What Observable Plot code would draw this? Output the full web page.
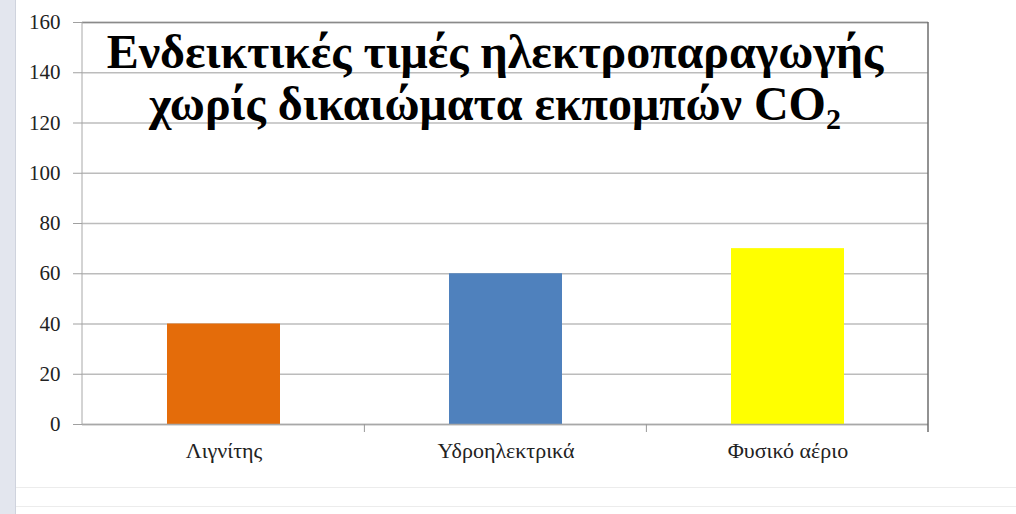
<!DOCTYPE html>
<html>
<head>
<meta charset="utf-8">
<script src="https://cdn.jsdelivr.net/npm/d3@7"></script>
<script src="https://cdn.jsdelivr.net/npm/@observablehq/plot@0.6"></script>
<style>
  html, body { margin: 0; padding: 0; background: #fff; }
  #wrap { position: relative; width: 1016px; height: 514px; overflow: hidden; }
  #strip { position: absolute; left: 0; top: 0; width: 15px; height: 514px; background: #e3e6ee; border-right: 1px solid #cfd3dd; }
  #hline1 { position: absolute; left: 16px; top: 487px; width: 1000px; height: 1px; background: #ececec; }
  #hline2 { position: absolute; left: 16px; top: 506px; width: 1000px; height: 1px; background: #ececec; }
  #title { position: absolute; left: 82px; width: 846px; top: 26px; text-align: center;
           font-family: "Liberation Serif", "Times New Roman", serif; font-weight: bold;
           font-size: 48px; line-height: 52px; color: #000; margin-left: -10px; white-space: nowrap; }
  #title sub { font-size: 30px; line-height: 0; vertical-align: -9px; }
  #chart { position: absolute; left: 0; top: 0; }
</style>
</head>
<body>
<div id="wrap">
  <div id="strip"></div>
  <div id="hline1"></div>
  <div id="hline2"></div>
  <div id="chart"></div>
  <div id="title">Ενδεικτικές τιμές ηλεκτροπαραγωγής<br>χωρίς δικαιώματα εκπομπών CO<sub>2</sub></div>
</div>
<script>
const categories = ["Λιγνίτης", "Υδροηλεκτρικά", "Φυσικό αέριο"];
const values = [40, 60, 70];
const colors = ["#e46c0a", "#4f81bd", "#ffff00"];
const yTicks = [0, 20, 40, 60, 80, 100, 120, 140, 160];

const data = categories.map((c, i) => ({category: c, value: values[i]}));

// short ticks at the category boundaries below the zero line
const boundaryTicks = (index, scales) => {
  const g = d3.create("svg:g");
  const x = scales.x;
  const step = x(categories[1]) - x(categories[0]);
  const y0 = scales.y(0);
  for (let i = 0; i < categories.length - 1; i++) {
    const mid = (x(categories[i]) + x(categories[i + 1])) / 2;
    const bw = (step * 0.4);
    const xpos = mid + bw / 2;
    g.append("line").attr("x1", xpos).attr("x2", xpos)
      .attr("y1", y0).attr("y2", y0 + 8)
      .attr("stroke", "#9a9a9a").attr("stroke-width", 1);
  }
  return g.node();
};

// left (axis) and right frame edges
const sideLines = (index, scales, values, dimensions) => {
  const {marginLeft, marginRight, width} = dimensions;
  const g = d3.create("svg:g");
  const yTop = scales.y(160), yBot = scales.y(0);
  g.append("line").attr("x1", marginLeft).attr("x2", marginLeft)
    .attr("y1", yTop).attr("y2", yBot).attr("stroke", "#a8a8a8").attr("stroke-width", 1);
  g.append("line").attr("x1", width - marginRight).attr("x2", width - marginRight)
    .attr("y1", yTop).attr("y2", yBot + 8).attr("stroke", "#6e6e6e").attr("stroke-width", 1.5);
  return g.node();
};

const chart = Plot.plot({
  width: 1016,
  height: 514,
  marginLeft: 82,
  marginRight: 88,
  marginTop: 22,
  marginBottom: 90,
  style: {background: "transparent", fontFamily: "'Liberation Serif', 'Times New Roman', serif"},
  x: {domain: categories, paddingInner: 0.6, paddingOuter: 0.3, label: null},
  y: {domain: [0, 160], label: null},
  color: {domain: categories, range: colors},
  marks: [
    Plot.gridY(yTicks, {stroke: "#bcbcbc", strokeOpacity: 1, strokeWidth: 1.5}),
    Plot.barY(data, {x: "category", y: "value", fill: "category"}),
    Plot.ruleY([160], {stroke: "#8a8a8a", strokeWidth: 1.5}),
    Plot.ruleY([0], {stroke: "#a8a8a8", strokeWidth: 1.5}),
    sideLines,
    Plot.axisY(yTicks, {tickSize: 9, tickPadding: 13, fontSize: 21, stroke: "#a0a0a0", fill: "#222", tickFormat: d => String(d)}),
    Plot.axisX({tickSize: 0, tickPadding: 18, fontSize: 22, fill: "#222"}),
    boundaryTicks
  ]
});
document.getElementById("chart").appendChild(chart);
</script>
</body>
</html>
